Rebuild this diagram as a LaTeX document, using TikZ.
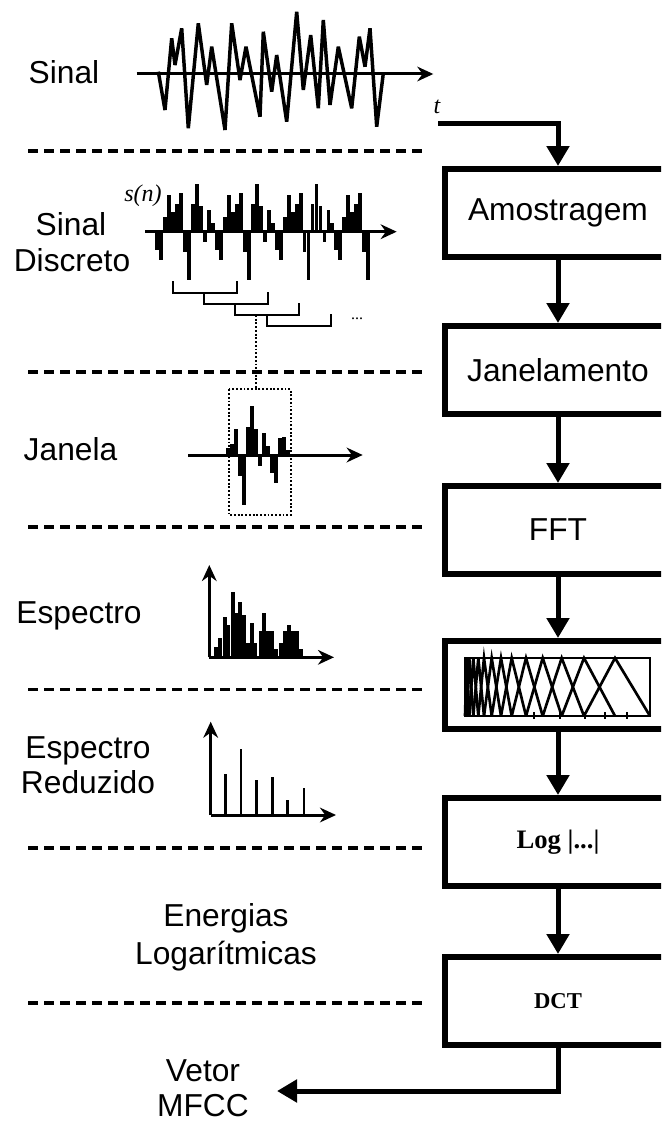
\documentclass[tikz,border=0pt]{standalone}
\usepackage{fontspec}
\setmainfont{Liberation Sans}
\newfontfamily\tnr{Liberation Serif}
\usetikzlibrary{arrows.meta}
\begin{document}
\begin{tikzpicture}[x=0.75pt,y=-0.75pt,
  lbl/.style={font=\fontsize{23.8}{28}\selectfont, inner sep=0pt, anchor=base},
  stagebox/.style={draw, line width=4.5pt, minimum width=169.5pt, minimum height=66pt, inner sep=0pt, font=\fontsize{23.8}{28}\selectfont},
  flow/.style={line width=3.75pt, -{Triangle[length=15pt,width=16.5pt]}},
  sepline/.style={line width=2.4pt, dash pattern=on 7.5pt off 4.5pt},
  axisline/.style={line width=2.25pt, -{Stealth[length=12pt,width=11pt]}},
  bar/.style={line width=2.9pt},
  thinbar/.style={line width=2.1pt},
  bracketline/.style={line width=1.6pt},
  dotline/.style={line width=1.3pt, dash pattern=on 1.4pt off 1.4pt},
  wave/.style={line width=2.6pt, miter limit=4},
  filt/.style={line width=2pt},
  serlbl/.style={font=\tnr\itshape\fontsize{18}{20}\selectfont, inner sep=0pt}
]
\useasboundingbox (0,0) rectangle (661,1124);
\fill[white] (0,0) rectangle (661,1124);
\clip (0,0) rectangle (661,1124);

% separators
\foreach \yy in {151,372,527,689.5,848,1003}
  \draw[sepline] (28,\yy) -- (428,\yy);

% left labels
\node[lbl] (lsinal) at (64,83.3) {Sinal};
\node[lbl] (lsd1) at (71,235) {Sinal};
\node[lbl] (lsd2) at (72,271.7) {Discreto};
\node[lbl] (ljan) at (70.5,460) {Janela};
\node[lbl] (lesp) at (79,623) {Espectro};
\node[lbl] (lred1) at (88,758) {Espectro};
\node[lbl] (lred2) at (88,793) {Reduzido};
\node[lbl] (len1) at (226,926) {Energias};
\node[lbl] (len2) at (226,964.5) {Logarítmicas};
\node[lbl] (lvet1) at (203,1081) {Vetor};
\node[lbl] (lvet2) at (203,1116) {MFCC};

% continuous signal
\draw[axisline] (136.7,74) -- (433.3,74);
\draw[wave] (158.3,71.7) -- (165,110) -- (171.7,38.3) -- (175,65) -- (181.7,28.3) -- (188.3,128.3) -- (198.3,23.3) -- (206.7,85) -- (211.7,46.7) -- (225,130) -- (231.7,23.3) -- (240,80) -- (246,46.7) -- (260,116.7) -- (263.3,31.7) -- (271.7,91.7) -- (276.7,55) -- (286.7,121.7) -- (296.7,11.7) -- (303.3,90) -- (310.7,35) -- (318.3,108.3) -- (323.3,20) -- (330,105) -- (338.3,46.7) -- (351.7,108.3) -- (359.3,36.7) -- (365,66.7) -- (370,28.3) -- (376.7,126.7) -- (383.3,73.3);
\node[serlbl] (tlbl) at (437,107) {t};

% discrete signal
\draw[axisline] (145,231.7) -- (396.7,231.7);
\foreach \d [count=\k from 0] in {18,28,-15,-37,-20,-28,-39,20,48,-28,-48,-26,10,-22,-9,
  18,28,-15,-37,-20,-28,-39,20,48,-28,-48,-26,10,-22,-9,
  18,28,-15,-37,-20,-28,-39,20,48,-28,-48,-26,10,-22,-9,
  18,28,-15,-37,-20,-28,-39,20,48}
  \draw[bar] ({157.3+3.98*\k},231.7) -- ++(0,\d);
\node[serlbl] (sn) at (143,196) {s(n)};

% frame brackets
\foreach \i in {0,1,2,3}
  \draw[bracketline] ({172.7+31.3*\i},{281+11*\i}) -- ++(0,12) -- ++(64,0) -- ++(0,-12);
\node[font=\tnr\fontsize{12}{13}\selectfont, inner sep=0pt] (dots) at (357,319) {...};

% window
\draw[dotline] (256,315) -- (256,389.3);
\draw[dotline] (229,389.3) rectangle (290.7,515);
\draw[axisline] (188.3,455) -- (362.7,455);
\foreach \x/\d in {228.3/-7, 232.3/-11, 236.3/-26, 240.3/21, 244/50, 248/-28, 252/-49, 256/-26, 260/11, 263.7/-22, 267.7/-9, 272/18, 276/28, 280/-17, 284/-18, 288.3/-5}
  \draw[bar] (\x,455) -- ++(0,\d);

% spectrum
\foreach \x/\h in {215.7/10.7, 220/19, 224.7/40.7, 228.3/32.3, 232.7/65.7, 236/44.7, 240.3/55, 244.3/42.3, 248/14.7, 251.7/34.7, 255.3/14.7, 260.7/26.7, 264.3/44, 268/26.7, 272.3/26.7, 276/8.3, 280.7/14.7, 285.3/26.7, 289.3/32, 293.3/26.7, 297/26.7, 301.3/8.3}
  \draw[bar] (\x,657.3) -- ++(0,-\h);
\draw[axisline] (209.3,657.3) -- (209.3,565);
\draw[axisline] (209.3,657.3) -- (334,657.3);

% reduced spectrum
\foreach \x/\h in {225.3/41, 241/65.7, 256.7/35, 272.3/38.3, 287.7/15, 304/26.7}
  \draw[thinbar] (\x,815) -- ++(0,-\h);
\draw[axisline] (210.7,815) -- (210.7,721.7);
\draw[axisline] (210.7,815) -- (336,815);

% stage boxes
\node[stagebox] (amo) at (558,213) {Amostragem};
\node[stagebox] (jan) at (558,370) {Janelamento};
\node[stagebox] (fft) at (558,530) {FFT};
\node[stagebox] (mel) at (558,685) {};
\node[stagebox, font=\tnr\bfseries\fontsize{20}{22}\selectfont] (log) at (558,842) {Log |...|};
\node[stagebox, font=\tnr\bfseries\fontsize{17}{19}\selectfont] (dct) at (558,1001) {DCT};

% mel filter bank
\draw[line width=0.8pt] (465,658) rectangle (650,716);
\foreach \a/\b/\c in {465/466.7/469.3, 466.7/469.3/473.3, 469.3/473.3/478.3, 473.3/478.3/484, 478.3/484/491.7, 484/491.7/501, 491.7/501/511.7, 501/511.7/526, 511.7/526/542.7, 526/542.7/561.7, 542.7/561.7/584, 561.7/584/615, 584/615/650}
  \draw[filt] (\a,716) -- (\b,658) -- (\c,716);
\foreach \x in {534,560,585,605,627}
  \draw[line width=1.6pt] (\x,712) -- (\x,719);

% connectors
\coordinate (sigout) at (438,123);
\coordinate (out) at (277,1091);
\draw[flow] (sigout) -| (amo.north);
\draw[flow] (amo) -- (jan);
\draw[flow] (jan) -- (fft);
\draw[flow] (fft) -- (mel);
\draw[flow] (mel) -- (log);
\draw[flow] (log) -- (dct);
\draw[flow] (dct.south) |- (out);
\end{tikzpicture}
\end{document}
